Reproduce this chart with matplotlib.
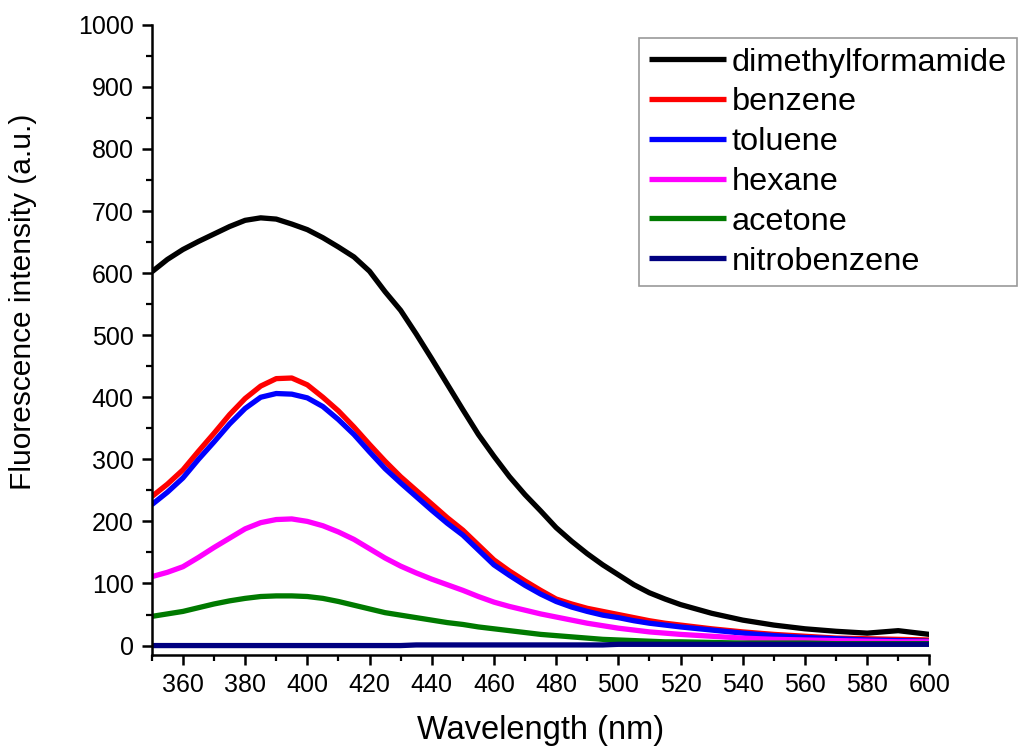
import matplotlib
matplotlib.use("Agg")
import matplotlib.pyplot as plt
from matplotlib.ticker import MultipleLocator

plt.rcParams['font.family'] = ['Liberation Sans', 'DejaVu Sans']

# emission wavelengths (nm)
wavelength = [350, 355, 360, 365, 370, 375, 380, 385, 390, 395, 400, 405, 410, 415,
              420, 425, 430, 435, 440, 445, 450, 455, 460, 465, 470, 475, 480, 485,
              490, 495, 500, 505, 510, 515, 520,
              530, 540, 550, 560, 570, 580, 590, 600]

dmf = [602, 622, 638, 651, 663, 675, 685, 689, 687, 679, 670, 657, 642, 626,
       603, 570, 540, 502, 462, 421, 380, 340, 305, 272, 243, 217, 190, 168,
       148, 130, 114, 98, 85, 75, 66,
       52, 41, 33, 27, 23, 20, 24, 18]
benzene = [240, 260, 283, 313, 342, 372, 398, 418, 430, 431, 420, 400, 378, 352,
           324, 297, 272, 250, 228, 206, 186, 162, 138, 120, 104, 89, 75, 67,
           60, 55, 50, 45, 40, 36, 33,
           27, 22, 18, 15, 12, 11, 10, 9]
toluene = [227, 247, 270, 300, 328, 357, 382, 400, 406, 405, 399, 385, 364, 340,
           312, 285, 262, 240, 218, 197, 178, 154, 130, 113, 97, 83, 71, 62,
           55, 49, 45, 40, 36, 33, 30,
           25, 20, 16, 13, 11, 9, 8, 7]
hexane = [111, 118, 127, 142, 158, 173, 188, 198, 203, 204, 200, 193, 183, 171,
          156, 141, 128, 117, 107, 98, 89, 79, 70, 63, 57, 51, 46, 41,
          36, 32, 28, 25, 22, 20, 18,
          15, 12, 10, 9, 8, 7, 6, 6]
acetone = [47, 51, 55, 61, 67, 72, 76, 79, 80, 80, 79, 76, 71, 65,
           59, 53, 49, 45, 41, 37, 34, 30, 27, 24, 21, 18, 16, 14,
           12, 10, 9, 8, 7, 6, 6,
           5, 4, 4, 4, 3, 3, 3, 3]
nitrobenzene = [0, 0, 0, 0, 0, 0, 0, 0, 0, 0, 0, 0, 0, 0,
                0, 0, 0, 1, 1, 1, 1, 1, 1, 1, 1, 1, 1, 1,
                1, 1, 2, 2, 2, 2, 2,
                2, 2, 2, 2, 2, 2, 2, 2]

series = [
    ("dimethylformamide", dmf, "black"),
    ("benzene", benzene, "#ff0000"),
    ("toluene", toluene, "#0000ff"),
    ("hexane", hexane, "#ff00ff"),
    ("acetone", acetone, "#007a00"),
    ("nitrobenzene", nitrobenzene, "#000080"),
]

fig = plt.figure(figsize=(10.19, 7.51), dpi=100)
ax = fig.add_axes([0.149, 0.128, 0.763, 0.839])

for name, vals, col in series:
    ax.plot(wavelength, vals, color=col, lw=3.8, label=name,
            solid_capstyle="butt", solid_joinstyle="round")

ax.set_xlim(350, 600)
ax.set_ylim(-15, 1000)
ax.xaxis.set_major_locator(MultipleLocator(20))
ax.xaxis.set_minor_locator(MultipleLocator(10))
ax.yaxis.set_major_locator(MultipleLocator(100))
ax.yaxis.set_minor_locator(MultipleLocator(50))
ax.set_xticks(range(360, 601, 20))

for side in ("top", "right"):
    ax.spines[side].set_visible(False)
for side in ("left", "bottom"):
    ax.spines[side].set_linewidth(1.8)

ax.tick_params(which="major", direction="out", length=7, width=1.8, labelsize=18, pad=6)
ax.tick_params(which="minor", direction="out", length=4, width=1.6)

ax.set_xlabel("Wavelength (nm)", fontsize=23.5, va="top")
ax.set_ylabel("Fluorescence intensity (a.u.)", fontsize=21.5)
ax.xaxis.set_label_coords(0.5, -0.095)
ax.yaxis.set_label_coords(-0.148, 0.56)

leg = ax.legend(loc="upper right", bbox_to_anchor=(1017 / 1019, 1 - 38 / 751),
                bbox_transform=fig.transFigure, fontsize=23.4, frameon=True,
                fancybox=False, handlelength=2.35, handletextpad=0.2,
                labelspacing=0.3, borderpad=0.3, borderaxespad=0)
leg.get_frame().set_edgecolor("#808080")
leg.get_frame().set_linewidth(1.2)

fig.savefig("out.png", dpi=100)
